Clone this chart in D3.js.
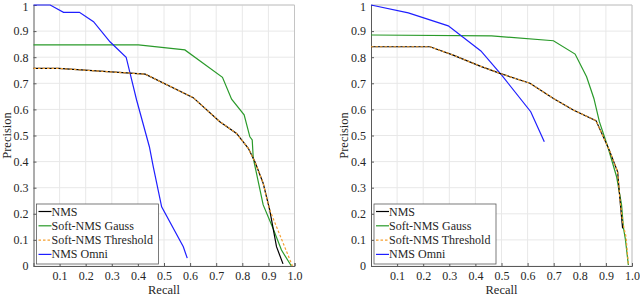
<!DOCTYPE html>
<html>
<head>
<meta charset="utf-8">
<script src="https://cdn.jsdelivr.net/npm/d3@7"></script>
<style>
  html, body { margin: 0; padding: 0; background: #fff; }
  svg text { font-family: "Liberation Serif", "DejaVu Serif", serif; fill: #262626; }
</style>
</head>
<body>
<div id="chart"></div>
<script>
// recall / precision
const seriesNames = ["NMS", "Soft-NMS Gauss", "Soft-NMS Threshold", "NMS Omni"];
const seriesColors = ["#000000", "#2a9a2a", "#f5a030", "#1f1fff"];

const leftNmsX = [0, 0.096, 0.428, 0.612, 0.714, 0.778, 0.823, 0.848, 0.88, 0.905, 0.931, 0.956];
const leftNmsY = [0.757, 0.757, 0.735, 0.645, 0.553, 0.508, 0.451, 0.40, 0.317, 0.215, 0.074, 0.008];
const leftGaussX = [0, 0.402, 0.58, 0.724, 0.759, 0.807, 0.829, 0.838, 0.842, 0.88, 0.918, 0.95, 0.988];
const leftGaussY = [0.847, 0.847, 0.828, 0.723, 0.639, 0.579, 0.495, 0.483, 0.413, 0.234, 0.144, 0.061, 0];
const leftThreshX = [0, 0.096, 0.428, 0.612, 0.714, 0.778, 0.823, 0.848, 0.88, 0.905, 0.992];
const leftThreshY = [0.757, 0.757, 0.735, 0.645, 0.553, 0.508, 0.451, 0.40, 0.317, 0.215, 0];
const leftOmniX = [0, 0.064, 0.115, 0.176, 0.23, 0.293, 0.355, 0.395, 0.444, 0.459, 0.491, 0.574, 0.589];
const leftOmniY = [1.0, 1.0, 0.972, 0.972, 0.936, 0.859, 0.80, 0.636, 0.457, 0.38, 0.227, 0.074, 0.03];

const rightNmsX = [0, 0.226, 0.315, 0.418, 0.494, 0.609, 0.699, 0.775, 0.862, 0.913, 0.945, 0.954, 0.964];
const rightNmsY = [0.84, 0.84, 0.808, 0.766, 0.738, 0.70, 0.642, 0.598, 0.557, 0.444, 0.361, 0.253, 0.144];
const rightGaussX = [0, 0.462, 0.699, 0.782, 0.826, 0.854, 0.875, 0.909, 0.941, 0.96, 0.967, 0.975, 0.986];
const rightGaussY = [0.885, 0.882, 0.863, 0.812, 0.725, 0.642, 0.553, 0.451, 0.342, 0.234, 0.148, 0.10, 0.004];
const rightThreshX = [0, 0.226, 0.315, 0.418, 0.494, 0.609, 0.699, 0.775, 0.862, 0.913, 0.945, 0.954, 0.964, 0.977, 0.986];
const rightThreshY = [0.84, 0.84, 0.808, 0.766, 0.738, 0.70, 0.642, 0.598, 0.557, 0.444, 0.361, 0.253, 0.17, 0.112, 0.008];
const rightOmniX = [0, 0.143, 0.296, 0.421, 0.50, 0.612, 0.664];
const rightOmniY = [1.0, 0.97, 0.92, 0.824, 0.732, 0.591, 0.476];

const xTicks = [0.1, 0.2, 0.3, 0.4, 0.5, 0.6, 0.7, 0.8, 0.9, 1.0];
const yTicks = [0, 0.1, 0.2, 0.3, 0.4, 0.5, 0.6, 0.7, 0.8, 0.9, 1];

const width = 640, height = 296;
const svg = d3.select("#chart").append("svg")
    .attr("width", width)
    .attr("height", height);

function zip(xs, ys) {
    return xs.map((x, i) => [x, ys[i]]);
}

const panels = [
    { left: 33.5, right: 294.5, lines: [
        zip(leftNmsX, leftNmsY), zip(leftGaussX, leftGaussY),
        zip(leftThreshX, leftThreshY), zip(leftOmniX, leftOmniY)] },
    { left: 371, right: 632, lines: [
        zip(rightNmsX, rightNmsY), zip(rightGaussX, rightGaussY),
        zip(rightThreshX, rightThreshY), zip(rightOmniX, rightOmniY)] }
];

const plotTop = 5, plotBottom = 266;

panels.forEach(p => {
    const x = d3.scaleLinear().domain([0, 1]).range([p.left, p.right]);
    const y = d3.scaleLinear().domain([0, 1]).range([plotBottom, plotTop]);
    const g = svg.append("g");

    // grid
    g.selectAll(".gx").data(xTicks).enter().append("line")
        .attr("x1", d => x(d)).attr("x2", d => x(d))
        .attr("y1", plotTop).attr("y2", plotBottom)
        .attr("stroke", "#e8e8e8").attr("stroke-width", 1);
    g.selectAll(".gy").data(yTicks).enter().append("line")
        .attr("x1", p.left).attr("x2", p.right)
        .attr("y1", d => y(d)).attr("y2", d => y(d))
        .attr("stroke", "#e8e8e8").attr("stroke-width", 1);

    // box: top/right light
    g.append("line").attr("x1", p.left).attr("x2", p.right).attr("y1", plotTop).attr("y2", plotTop)
        .attr("stroke", "#c4c4c4");
    g.append("line").attr("x1", p.right).attr("x2", p.right).attr("y1", plotTop).attr("y2", plotBottom)
        .attr("stroke", "#c4c4c4");

    // axes with inward ticks
    const xAxis = d3.axisBottom(x).tickValues(xTicks).tickSize(-3).tickPadding(5)
        .tickFormat(d3.format(".1f"));
    const yAxis = d3.axisLeft(y).tickValues(yTicks).tickSize(-3).tickPadding(5)
        .tickFormat(d => d === 0 || d === 1 ? String(d) : d3.format(".1f")(d));

    const gx = g.append("g").attr("transform", `translate(0,${plotBottom})`).call(xAxis);
    const gy = g.append("g").attr("transform", `translate(${p.left},0)`).call(yAxis);
    [gx, gy].forEach(a => {
        a.attr("font-family", null).attr("font-size", null);
        a.select(".domain").attr("stroke", "#5a5a5a");
        a.selectAll(".tick line").attr("stroke", "#5a5a5a");
        a.selectAll("text").style("font-size", "12px").attr("fill", "#262626");
    });
    // keep the top "1" inside the page
    gy.selectAll(".tick").filter(d => d === 1).select("text").attr("dy", "0.45em");

    // axis titles
    g.append("text")
        .attr("x", (p.left + p.right) / 2).attr("y", 294)
        .attr("text-anchor", "middle").style("font-size", "12.5px")
        .text("Recall");
    g.append("text")
        .attr("transform", `translate(${p.left - 23},${(plotTop + plotBottom) / 2}) rotate(-90)`)
        .attr("text-anchor", "middle").style("font-size", "12.5px")
        .text("Precision");

    // curves
    const line = d3.line().x(d => x(d[0])).y(d => y(d[1]));
    const order = [1, 3, 0, 2];
    order.forEach(i => {
        g.append("path")
            .attr("d", line(p.lines[i]))
            .attr("fill", "none")
            .attr("stroke", seriesColors[i])
            .attr("stroke-width", 1.2)
            .attr("stroke-dasharray", i === 2 ? "2.5,2" : null);
    });

    // legend
    const lx = p.left + 3, ly = 204, lw = 122, lh = 60;
    const leg = g.append("g");
    leg.append("rect")
        .attr("x", lx).attr("y", ly).attr("width", lw).attr("height", lh)
        .attr("fill", "#fff").attr("stroke", "#5a5a5a").attr("stroke-width", 0.8);
    seriesNames.forEach((name, i) => {
        const cy = ly + 7.5 + i * 14.3;
        leg.append("line")
            .attr("x1", lx + 2).attr("x2", lx + 15)
            .attr("y1", cy).attr("y2", cy)
            .attr("stroke", seriesColors[i]).attr("stroke-width", 1.2)
            .attr("stroke-dasharray", i === 2 ? "2.5,2" : null);
        leg.append("text")
            .attr("x", lx + 15).attr("y", cy + 4)
            .style("font-size", "12px")
            .text(name);
    });
});
</script>
</body>
</html>
